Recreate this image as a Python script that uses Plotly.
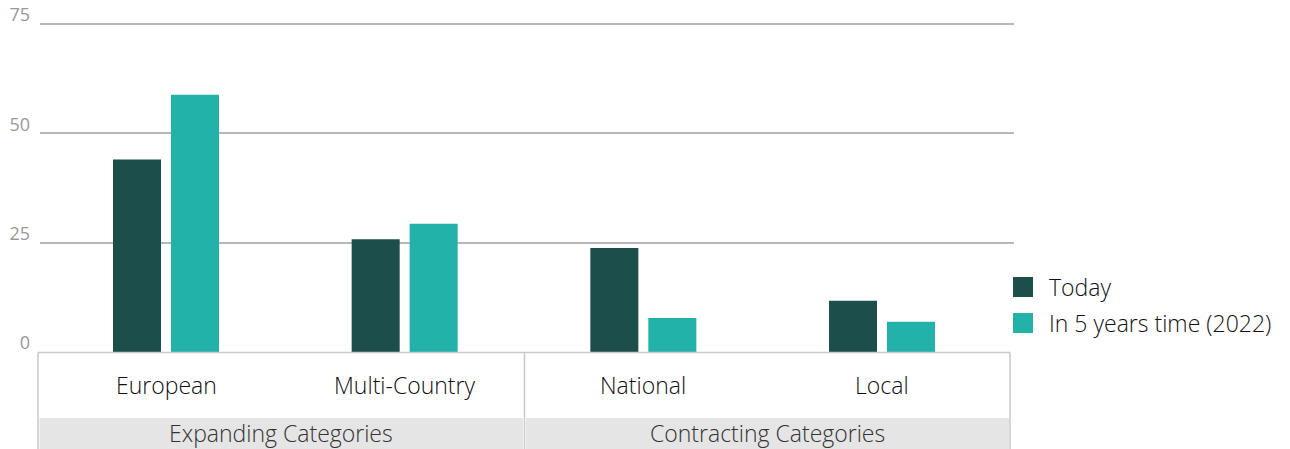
import plotly.graph_objects as go

categories = ["European", "Multi-Country", "National", "Local"]
groups = ["Expanding Categories", "Contracting Categories"]
series_names = ["Today", "In 5 years time (2022)"]
today = [44, 25.8, 23.8, 11.7]
future = [58.8, 29.3, 7.8, 6.9]
y_ticks = [0, 25, 50, 75]
colors = ["#1c4e4b", "#22b2aa"]

FONT = "Open Sans"
TXT = 23
WGT = 300

# plot area geometry (pixels)
L, R, T, B = 40, 1014, 22, 352
W, H = R - L, B - T
y_top = 75 * H / 328.0  # so that 75 sits ~2px below the top edge


def px(x):
    return (x - L) / W


def py(y):
    return (B - y) / H


fig = go.Figure()
fig.add_trace(go.Bar(x=categories, y=today, name=series_names[0],
                     marker=dict(color=colors[0], line=dict(width=0))))
fig.add_trace(go.Bar(x=categories, y=future, name=series_names[1],
                     marker=dict(color=colors[1], line=dict(width=0))))

shapes = []
line_col = "#c9c9c9"
# box around category area
shapes.append(dict(type="line", xref="paper", yref="paper", x0=px(38), x1=px(1010),
                   y0=py(352.5), y1=py(352.5), line=dict(color=line_col, width=1.5)))
for xv in [38, 524.5, 1010]:
    shapes.append(dict(type="line", xref="paper", yref="paper", x0=px(xv), x1=px(xv),
                       y0=py(352.5), y1=py(452), line=dict(color=line_col, width=1.5)))
# gray bands
for x0, x1 in [(39.5, 523), (526, 1009)]:
    shapes.append(dict(type="rect", xref="paper", yref="paper", x0=px(x0), x1=px(x1),
                       y0=py(418), y1=py(452), fillcolor="#e5e5e5", line=dict(width=0),
                       layer="below"))

annotations = []
for c in categories:
    annotations.append(dict(x=c, xref="x", yref="paper", y=py(385), text=c, showarrow=False,
                            font=dict(family=FONT, size=TXT, color="#111111", weight=WGT),
                            xanchor="center", yanchor="middle"))
for g, (x0, x1) in zip(groups, [(38, 524.5), (524.5, 1010)]):
    annotations.append(dict(x=px((x0 + x1) / 2), xref="paper", yref="paper", y=py(433),
                            text=g, showarrow=False,
                            font=dict(family=FONT, size=TXT, color="#333333", weight=WGT),
                            xanchor="center", yanchor="middle"))

# legend (large square swatches)
for name, col, yc in zip(series_names, colors, [287, 323]):
    shapes.append(dict(type="rect", xref="paper", yref="paper", x0=px(1013), x1=px(1033),
                       y0=py(yc - 10), y1=py(yc + 10), fillcolor=col, line=dict(width=0)))
    annotations.append(dict(x=px(1047), xref="paper", yref="paper", y=py(yc), text=name,
                            showarrow=False, xanchor="left", yanchor="middle",
                            font=dict(family=FONT, size=TXT, color="#111111", weight=WGT)))

fig.update_layout(
    width=1290, height=449,
    margin=dict(l=L, r=1290 - R, t=T, b=449 - B, pad=0, autoexpand=False),
    paper_bgcolor="white", plot_bgcolor="white",
    barmode="group", bargap=0.514, bargroupgap=0.172,
    showlegend=False,
    shapes=shapes, annotations=annotations,
    font=dict(family=FONT),
)
fig.update_xaxes(type="category", range=[(L - 166) / 238.67, (R - 166) / 238.67],
                 showticklabels=False, showgrid=False, zeroline=False, showline=False,
                 ticks="", automargin=False)
fig.update_yaxes(range=[0, y_top], tickvals=y_ticks, ticktext=[str(v) for v in y_ticks],
                 showgrid=True, gridcolor="#b8b8b8", gridwidth=1.5, zeroline=False,
                 showline=False, ticks="", ticklabelshift=-9, ticklabelstandoff=9,
                 automargin=False,
                 tickfont=dict(family=FONT, size=18, color="#999999", weight=400))

fig.write_html("out.html")
